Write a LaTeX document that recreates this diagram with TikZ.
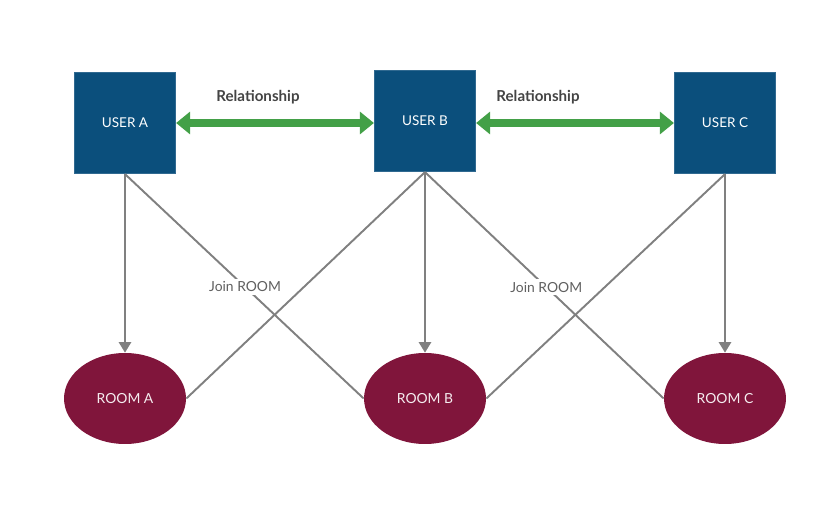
\documentclass[tikz,border=0pt]{standalone}
\usepackage{fontspec}
\setmainfont{Lato}
\usetikzlibrary{arrows.meta,shapes.geometric}

\definecolor{userblue}{HTML}{0B4F7C}
\definecolor{roomred}{HTML}{80153B}
\definecolor{relgreen}{HTML}{43A047}
\definecolor{linkgray}{HTML}{808080}
\definecolor{labelgray}{HTML}{444444}

\begin{document}
\begin{tikzpicture}[x=0.02cm,y=-0.02cm,
    user/.style={fill=userblue,draw=userblue!85!white,line width=0.4pt,minimum size=2.03cm,
      inner sep=0pt,text=white,font=\fontsize{7.7}{9}\selectfont},
    room/.style={ellipse,fill=roomred,minimum width=2.44cm,minimum height=1.82cm,
      inner sep=0pt,text=white!92!roomred,font=\fontsize{7.9}{9}\selectfont},
    relation/.style={draw=relgreen,line width=5pt,
      {Triangle[width=12.5pt,length=8pt]}-{Triangle[width=12.5pt,length=8pt]}},
    rellabel/.style={text=labelgray,font=\bfseries\fontsize{8.6}{10}\selectfont},
    link/.style={draw=linkgray,line width=1.1pt},
    joinlink/.style={link,-{Triangle[width=7pt,length=6pt]}},
    joinlabel/.style={fill=white,text=labelgray!85!white,inner sep=1.5pt,
      font=\fontsize{7.9}{9}\selectfont}]
  \useasboundingbox (0,0) rectangle (832,520);

  % users
  \node[user] (ua) at (125,123) {USER A};
  \node[user] (ub) at (425,121) {USER B};
  \node[user] (uc) at (725,123) {USER C};

  % rooms
  \node[room] (ra) at (125,398.5) {ROOM A};
  \node[room] (rb) at (425,398.5) {ROOM B};
  \node[room] (rc) at (725,398.5) {ROOM C};

  % relationships
  \draw[relation] (ua.east) -- (ub.west |- ua.east);
  \draw[relation] (ub.east |- uc.west) -- (uc.west);
  \node[rellabel] (rl1) at (258,97) {Relationship};
  \node[rellabel] (rl2) at (538,97) {Relationship};

  % joins
  \draw[link] (ub.south) -- (ra.east);
  \draw[link] (uc.south) -- (rb.east);
  \draw[link] (ua.south) -- node[joinlabel,pos=0.503] {Join ROOM} (rb.west);
  \draw[link] (ub.south) -- node[joinlabel,pos=0.508] {Join ROOM} (rc.west);
  \draw[joinlink] (ua.south) -- (ra.north);
  \draw[joinlink] (ub.south) -- (rb.north);
  \draw[joinlink] (uc.south) -- (rc.north);
\end{tikzpicture}
\end{document}
